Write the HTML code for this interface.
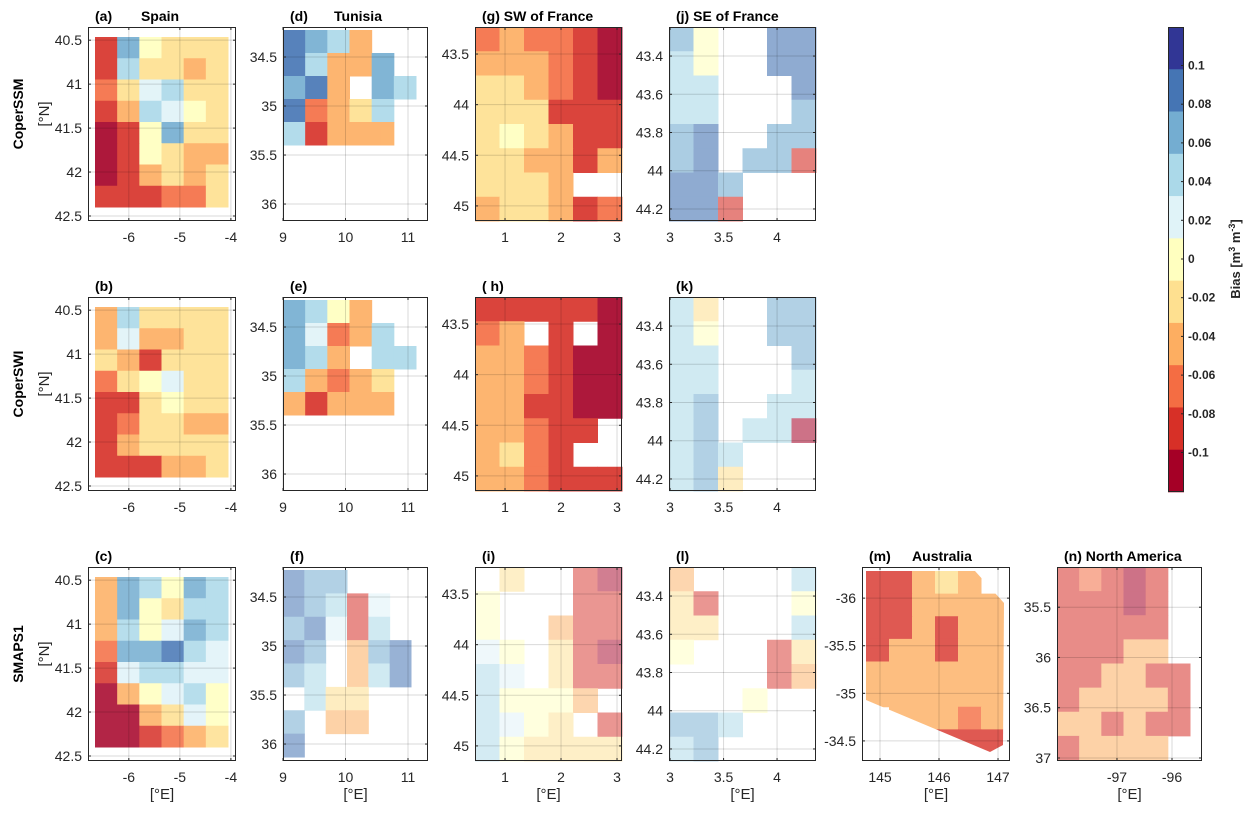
<!DOCTYPE html>
<html><head><meta charset="utf-8">
<style>
html,body{margin:0;padding:0;background:#fff;}
svg{display:block;font-family:"Liberation Sans",Arial,sans-serif;}
.tk{font-size:14px;fill:#262626;}
.tt{font-size:14px;font-weight:bold;fill:#000;}
</style></head>
<body>
<svg id="fig" width="1250" height="813" viewBox="0 0 1250 813" xmlns="http://www.w3.org/2000/svg"></svg>
<script>
// ---- data: bias in hundredths of m3/m3, coarse grids (rows top->bottom), null = no data
const spainSSM=[[-9,6,-1,-2,-3,-3],[-8,4,-2,-3,-4,-3],[-6,-2,2,3,-2,-3],[-9,-4,3,2,0,-2],[-11,-7,0,5,-3,-2],[-11,-8,0,-2,-4,-4],[-10,-7,-4,-3,-5,-3],[-9,-9,-8,-6,-6,-3]];
const spainSWI=[[-5,4,-2,-3,-3,-3],[-5,2,-4,-5,-3,-3],[-3,-5,-7,-3,-2,-3],[-6,-3,-1,2,-2,-2],[-8,-7,-2,-1,-3,-3],[-8,-6,-3,-3,-4,-4],[-8,-5,-3,-3,-3,-3],[-8,-8,-7,-5,-5,-3]];
const spainSMAP=[[-4,6,3,-1,5,3],[-5,5,0,-2,4,3],[-4,4,0,2,5,3],[-6,5,6,7,4,2],[-8,2,3,3,2,1],[-11,-4,0,2,3,0],[-11,-10,-4,-2,1,-1],[-11,-10,-9,-6,-4,-2]];
const tunSSM=[[7,5,3,-4,null,null],[8,4,-5,-4,5,null],[6,7,-4,null,6,4],[7,-6,-5,-3,4,null],[3,-8,-5,-5,-4,null]];
const tunSWI=[[5,3,0,-4,null,null],[6,2,-6,-4,3,null],[5,3,-5,null,4,3],[4,-5,-6,-4,-2,null],[-4,-7,-5,-5,-4,null]];
const tunSMAP=[[7,6,6,null,null,null],[7,5,3,-9,2,null],[6,7,2,-8,3,null],[7,5,null,-4,5,8],[5,3,null,-5,3,8],[null,3,-3,-3,null,null],[5,null,-4,-4,null,null],[8,null,null,null,null,null]];
const swfSSM=[[-6,-5,-6,-6,-7,-11],[-5,-4,-5,-6,-8,-11],[-3,-3,-5,-6,-9,-10],[-2,-2,-3,-7,-9,-9],[-2,-1,-3,-5,-8,-9],[-3,-2,-4,-4,-7,-4],[-3,-2,-3,-4,null,null],[-4,-3,-3,-4,-9,-6]];
const swfSWI=[[-7,-7,-8,-8,-8,-11],[-6,-5,null,-8,null,-11],[-5,-5,-6,-9,-11,-11],[-4,-4,-6,-9,-11,-11],[-4,-4,-7,-8,-11,-10],[-4,-4,-6,-7,-8,null],[-4,-3,-6,-7,null,null],[-4,-4,-6,-9,-8,-7]];
const swfSMAP=[[null,-2,null,null,-9,-11],[-1,null,null,null,-9,-9],[-1,null,null,-5,-9,-9],[2,0,null,-3,-9,-10],[3,2,null,-3,-7,-9],[3,0,-1,-1,-4,null],[3,2,0,-2,null,-7],[3,0,-2,-3,-3,-3]];
const sefSSM=[[5,-1,null,null,7,8],[4,-1,null,null,7,7],[3,4,null,null,null,7],[4,4,null,null,null,6],[5,7,null,null,6,6],[5,7,null,5,6,-9],[7,7,5,null,null,null],[7,7,-7,null,null,null]];
const sefSWI=[[4,-2,null,null,5,6],[3,-1,null,null,5,5],[4,3,null,null,null,5],[4,4,null,null,null,4],[4,6,null,null,4,4],[4,5,null,4,4,-10],[4,5,4,null,null,null],[4,5,-3,null,null,null]];
const sefSMAP=[[-4,null,null,null,null,3],[-3,-7,null,null,null,0],[-2,-2,null,null,null,3],[-1,null,null,null,-7,-3],[null,null,null,null,-9,-4],[null,null,null,0,null,null],[5,5,4,null,null,null],[4,5,null,null,null,null]];
const ausSMAP=[[-8,-7,-4,-3,-4,null],[-9,-7,-4,-5,-4,-5],[-9,-7,-5,-7,-5,-5],[-7,-5,-4,-7,-5,-4],[-5,-4,-5,-5,-5,-4],[-5,-4,-5,-5,-5,-4],[null,-5,-5,-5,-6,-5],[null,null,null,-7,-8,-8]];
const naSMAP=[[-7,-6,-9,-11,-8,null],[-8,-7,-8,-11,-9,null],[-8,-8,-7,-9,-7,null],[-9,-9,-7,-5,-5,null],[-9,-7,-5,-5,-7,-7],[-7,-4,-4,-5,-4,-8],[-5,-4,-7,-5,-7,-8],[-7,-5,-5,-5,-5,null]];
const cbTicks=[0.1,0.08,0.06,0.04,0.02,0,-0.02,-0.04,-0.06,-0.08,-0.1];
const cbLabels=["0.1","0.08","0.06","0.04","0.02","0","-0.02","-0.04","-0.06","-0.08","-0.1"];
const rowNames=["CoperSSM","CoperSWI","SMAPS1"];

const NS="http://www.w3.org/2000/svg";
const svg=document.getElementById('fig');
function mk(tag,attrs,parent){const e=document.createElementNS(NS,tag);for(const k in attrs)e.setAttribute(k,attrs[k]);(parent||svg).appendChild(e);return e;}
const colors=["#a50026","#d73027","#f46d43","#fdae61","#fee090","#ffffbf","#e0f3f8","#abd9e9","#74add1","#4575b4","#313695"];
function colorOf(v){let i=Math.floor((v+0.11)/0.02);i=Math.max(0,Math.min(10,i));return colors[i];}

const cols=[
 {x0:88,x1:236,xmin:-6.80,xmax:-3.90,ymin:40.35,ymax:42.557,xt:[-6,-5,-4],yt:[40.5,41,41.5,42,42.5],ext:[7,140,10,180]},
 {x0:283,x1:428,xmin:9,xmax:11.32,ymin:34.194,ymax:36.173,xt:[9,10,11],yt:[34.5,35,35.5,36],ext:[0,133,3,118]},
 {x0:475,x1:622,xmin:0.464,xmax:3.089,ymin:43.233,ymax:45.149,xt:[1,2,3],yt:[43.5,44,44.5,45],ext:null},
 {x0:669,x1:816,xmin:2.99,xmax:4.364,ymin:43.248,ymax:44.263,xt:[3,3.5,4],yt:[43.4,43.6,43.8,44,44.2],ext:null}
];
const rowTop=[27,297,567], rowH=194;
const panels=[
 {c:0,r:0,data:spainSSM,lab:"(a)",title:"Spain",tx:160,op:0.9},
 {c:0,r:1,data:spainSWI,lab:"(b)",op:0.9},
 {c:0,r:2,data:spainSMAP,lab:"(c)",op:0.85},
 {c:1,r:0,data:tunSSM,lab:"(d)",title:"Tunisia",tx:358,op:0.9},
 {c:1,r:1,data:tunSWI,lab:"(e)",op:0.9},
 {c:1,r:2,data:tunSMAP,lab:"(f)",op:0.55,ext:[0,128,3,190]},
 {c:2,r:0,data:swfSSM,lab:"(g) SW of France",op:0.9},
 {c:2,r:1,data:swfSWI,lab:"( h)",op:0.9},
 {c:2,r:2,data:swfSMAP,lab:"(i)",op:0.5},
 {c:3,r:0,data:sefSSM,lab:"(j) SE of France",op:0.6},
 {c:3,r:1,data:sefSWI,lab:"(k)",op:0.55},
 {c:3,r:2,data:sefSMAP,lab:"(l)",op:0.5}
];
const extra=[
 {x0:862,x1:1010,xmin:144.695,xmax:147.203,ymin:-36.327,ymax:-34.289,xt:[145,146,147],yt:[-36,-35.5,-35,-34.5],data:ausSMAP,lab:"(m)",title:"Australia",tx:942,op:0.8,ext:[4,142,4,185],clip:"866,571 975,571 1004,603 1003,745 990,752 866,700"},
 {x0:1057,x1:1202,xmin:-98.09,xmax:-95.455,ymin:35.1,ymax:37.03,xt:[-97,-96],yt:[35.5,36,36.5,37],data:naSMAP,lab:"(n) North America",op:0.55,ext:[0,133,0,193]}
];
const defs=mk('defs',{});

function drawPanel(ax,p,top,idx,showYlab,showXlab){
  const x0=ax.x0,x1=ax.x1,y0=top,y1=top+rowH;
  const xs=v=>x0+(v-ax.xmin)/(ax.xmax-ax.xmin)*(x1-x0);
  const ys=v=>y0+(v-ax.ymin)/(ax.ymax-ax.ymin)*(y1-y0);
  const g=mk('g',{});
  
  
  mk('rect',{x:x0,y:y0,width:x1-x0,height:y1-y0,fill:'#fff'},g);
  const ext=p.ext||ax.ext||[0,x1-x0,0,y1-y0];
  const dg=mk('g',{opacity:p.op},g);
  
  
  if(p.clip){const cp=mk('clipPath',{id:'clip'+idx},defs);mk('polygon',{points:p.clip},cp);dg.setAttribute('clip-path','url(#clip'+idx+')');}
  const data=p.data,nr=data.length,nc=data[0].length;
  const cw=(ext[1]-ext[0])/nc,ch=(ext[3]-ext[2])/nr;
  for(let r=0;r<nr;r++)for(let c=0;c<nc;c++){
    const v=data[r][c]; if(v===null)continue;
    const cell=mk('rect',{x:(x0+ext[0]+c*cw).toFixed(2),y:(y0+ext[2]+r*ch).toFixed(2),width:(cw+0.5).toFixed(2),height:(ch+0.5).toFixed(2),fill:colorOf(v/100)},dg);
    
    
  }
  ax.xt.forEach(t=>{const X=xs(t);mk('line',{x1:X,x2:X,y1:y0,y2:y1,stroke:'rgba(0,0,0,0.15)','stroke-width':1},g);
    mk('line',{x1:X,x2:X,y1:y1,y2:y1-3,stroke:'#262626'},g);mk('line',{x1:X,x2:X,y1:y0,y2:y0+3,stroke:'#262626'},g);
    const tl=mk('text',{x:X,y:y1+21,'text-anchor':'middle',class:'tk'},g);tl.textContent=String(t);
    
    });
  ax.yt.forEach(t=>{const Y=ys(t);mk('line',{x1:x0,x2:x1,y1:Y,y2:Y,stroke:'rgba(0,0,0,0.15)','stroke-width':1},g);
    mk('line',{x1:x0,x2:x0+3,y1:Y,y2:Y,stroke:'#262626'},g);mk('line',{x1:x1,x2:x1-3,y1:Y,y2:Y,stroke:'#262626'},g);
    const tl=mk('text',{x:x0-6,y:Y+5,'text-anchor':'end',class:'tk'},g);tl.textContent=String(t);
    
    });
  mk('rect',{x:x0+0.5,y:y0+0.5,width:x1-x0-1,height:y1-y0-1,fill:'none',stroke:'#262626','stroke-width':1},g);
  const lab=mk('text',{x:x0+7,y:y0-6,class:'tt'},g);lab.textContent=p.lab;
  
  
  if(p.title){const tt=mk('text',{x:p.tx,y:y0-6,'text-anchor':'middle',class:'tt'},g);tt.textContent=p.title;
    
    }
  if(showYlab){const yl=mk('text',{x:0,y:0,transform:`translate(${x0-39},${y0+87}) rotate(-90)`,'text-anchor':'middle',class:'tk',style:'font-size:15px'},g);yl.textContent='[°N]';
    
    }
  if(showXlab){const xl=mk('text',{x:(x0+x1)/2,y:y1+38,'text-anchor':'middle',class:'tk',style:'font-size:15px'},g);xl.textContent='[°E]';
    
    }
}
panels.forEach((p,i)=>drawPanel(cols[p.c],p,rowTop[p.r],i,p.c===0,p.r===2));
extra.forEach((p,i)=>drawPanel(p,p,rowTop[2],20+i,false,true));

rowNames.forEach((n,i)=>{const t=mk('text',{x:0,y:0,transform:`translate(23,${rowTop[i]+87}) rotate(-90)`,'text-anchor':'middle',class:'tt'});t.textContent=n;
  
  });

const cb=mk('g',{});


const cbx=1168,cbw=16,cbt=27,cbb=492,bh=(cbb-cbt)/11;
for(let i=0;i<11;i++){mk('rect',{x:cbx,y:cbt+i*bh,width:cbw,height:bh+0.3,fill:colors[10-i]},cb);}
mk('rect',{x:cbx+0.5,y:cbt+0.5,width:cbw-1,height:cbb-cbt-1,fill:'none',stroke:'#262626'},cb);
const cbY=v=>259-v*1935;
cbTicks.forEach((v,i)=>{const Y=cbY(v);mk('line',{x1:cbx+cbw-3,x2:cbx+cbw,y1:Y,y2:Y,stroke:'#262626'},cb);
  const t=mk('text',{x:1188,y:Y+4,class:'tt',style:'font-size:12px;fill:#262626'},cb);t.textContent=cbLabels[i];
  
  });
const cbl=mk('text',{x:0,y:0,transform:'translate(1240,259) rotate(-90)','text-anchor':'middle',class:'tt',style:'font-size:13px;fill:#262626'},cb);
cbl.innerHTML='Bias [m<tspan dy="-5" font-size="9">3</tspan><tspan dy="5"> m</tspan><tspan dy="-5" font-size="9">-3</tspan><tspan dy="5">]</tspan>';


</script>
</body></html>
